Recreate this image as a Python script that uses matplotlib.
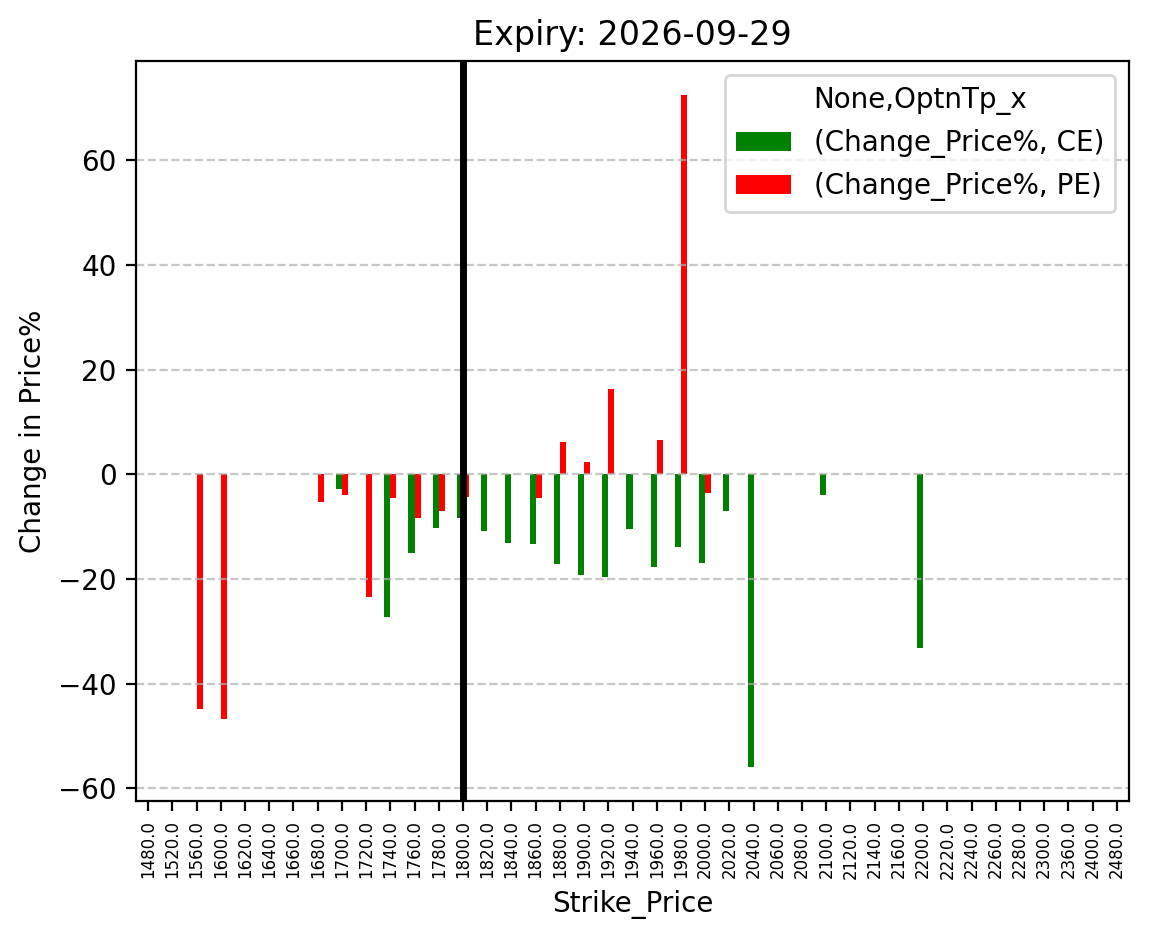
import numpy as np
import pandas as pd
import matplotlib
matplotlib.use("Agg")
import matplotlib.pyplot as plt

nan = np.nan
strikes = [1480.0, 1520.0, 1560.0, 1600.0, 1620.0, 1640.0, 1660.0, 1680.0, 1700.0, 1720.0,
           1740.0, 1760.0, 1780.0, 1800.0, 1820.0, 1840.0, 1860.0, 1880.0, 1900.0, 1920.0,
           1940.0, 1960.0, 1980.0, 2000.0, 2020.0, 2040.0, 2060.0, 2080.0, 2100.0, 2120.0,
           2140.0, 2160.0, 2200.0, 2220.0, 2240.0, 2260.0, 2280.0, 2300.0, 2360.0, 2400.0,
           2480.0]
ce_change = [nan, nan, nan, nan, nan, nan, nan, nan, -2.9, nan,
             -27.2, -15.0, -10.3, -8.4, -10.9, -13.2, -13.4, -17.2, -19.3, -19.7,
             -10.5, -17.8, -13.8, -16.9, -7.0, -56.0, nan, nan, -3.9, nan,
             nan, nan, -33.2, nan, nan, nan, nan, nan, nan, nan,
             nan]
pe_change = [nan, nan, -44.9, -46.7, nan, nan, nan, -5.3, -3.9, -23.4,
             -4.6, -8.4, -7.0, -4.4, nan, nan, -4.6, 6.1, 2.4, 16.3,
             nan, 6.5, 72.5, -3.6, nan, nan, nan, nan, nan, nan,
             nan, nan, nan, nan, nan, nan, nan, nan, nan, nan,
             nan]
spot_strike = 1800.0
title = "Expiry: 2026-09-29"

cols = pd.MultiIndex.from_tuples([("Change_Price%", "CE"), ("Change_Price%", "PE")],
                                 names=[None, "OptnTp_x"])
df = pd.DataFrame(np.column_stack([ce_change, pe_change]),
                  index=pd.Index(strikes, name="Strike_Price"), columns=cols)

fig = plt.figure(figsize=(1149 / 200, 939 / 200), dpi=200)
ax = fig.add_axes([136 / 1149, 1 - 801 / 939, (1129 - 136) / 1149, (801 - 61.3) / 939])
df.plot(kind="bar", ax=ax, color=["green", "red"])
ax.axvline(strikes.index(spot_strike), color="black", linewidth=2.5)
ax.grid(axis="y", linestyle="--", alpha=0.7)
ax.set_title(title, fontsize=12)
ax.set_ylabel("Change in Price%")
ax.set_xlabel("Strike_Price")
ax.tick_params(axis="x", labelsize=6, rotation=90)
fig.savefig("out.png", dpi=200)
